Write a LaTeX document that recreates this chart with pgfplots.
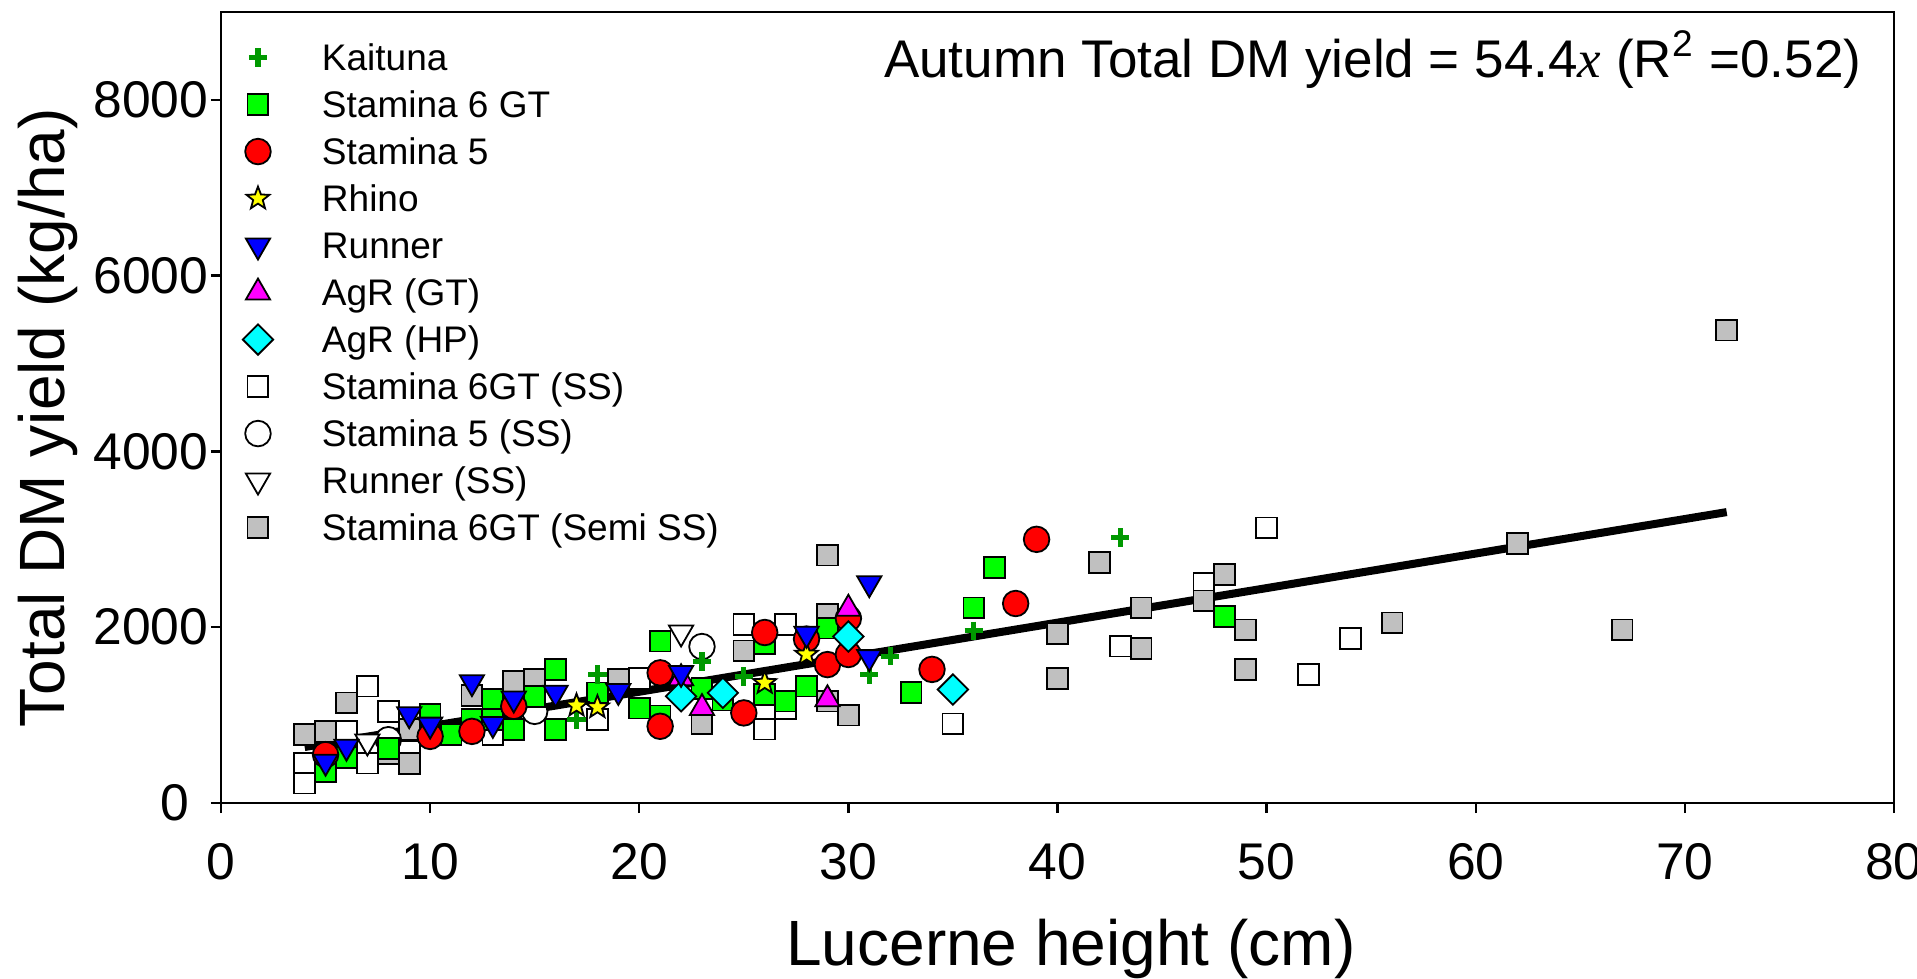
\documentclass[border=0pt]{standalone}
\usepackage{fontspec}
\setmainfont{Liberation Sans}
\newfontfamily\serifit{Liberation Serif}
\usepackage{pgfplots}
\pgfplotsset{compat=1.18}

\definecolor{kgreen}{RGB}{0,153,0}
\definecolor{sgreen}{RGB}{0,255,0}
\definecolor{sred}{RGB}{255,0,0}
\definecolor{syellow}{RGB}{255,255,0}
\definecolor{sblue}{RGB}{0,0,255}
\definecolor{smag}{RGB}{255,0,255}
\definecolor{scyan}{RGB}{0,255,255}
\definecolor{sgray}{RGB}{192,192,192}

\pgfdeclareplotmark{fstar}{%
  \pgfpathmoveto{\pgfpointpolar{90}{\pgfplotmarksize}}%
  \pgfpathlineto{\pgfpointpolar{126}{0.42\pgfplotmarksize}}%
  \pgfpathlineto{\pgfpointpolar{162}{\pgfplotmarksize}}%
  \pgfpathlineto{\pgfpointpolar{198}{0.42\pgfplotmarksize}}%
  \pgfpathlineto{\pgfpointpolar{234}{\pgfplotmarksize}}%
  \pgfpathlineto{\pgfpointpolar{270}{0.42\pgfplotmarksize}}%
  \pgfpathlineto{\pgfpointpolar{306}{\pgfplotmarksize}}%
  \pgfpathlineto{\pgfpointpolar{342}{0.42\pgfplotmarksize}}%
  \pgfpathlineto{\pgfpointpolar{18}{\pgfplotmarksize}}%
  \pgfpathlineto{\pgfpointpolar{54}{0.42\pgfplotmarksize}}%
  \pgfpathclose
  \pgfusepathqfillstroke}
\pgfdeclareplotmark{sdiamond}{%
  \pgfpathmoveto{\pgfqpoint{0pt}{\pgfplotmarksize}}%
  \pgfpathlineto{\pgfqpoint{\pgfplotmarksize}{0pt}}%
  \pgfpathlineto{\pgfqpoint{0pt}{-\pgfplotmarksize}}%
  \pgfpathlineto{\pgfqpoint{-\pgfplotmarksize}{0pt}}%
  \pgfpathclose
  \pgfusepathqfillstroke}

\pgfplotsset{
  kaituna/.style={only marks, mark=+, mark size=2.3bp, color=kgreen, mark options={line width=1.3bp}},
  sqm/.style={only marks, mark=square*, mark size=2.6bp, mark options={draw=black, fill=#1, line width=0.45bp}},
  circm/.style={only marks, mark=*, mark size=3.2bp, mark options={draw=black, fill=#1, line width=0.45bp}},
  dtri/.style={only marks, mark=triangle*, mark size=3.5bp, mark options={rotate=180, draw=black, fill=#1, line width=0.45bp}},
  utri/.style={only marks, mark=triangle*, mark size=3.5bp, mark options={draw=black, fill=#1, line width=0.45bp}},
  starm/.style={only marks, mark=fstar, mark size=3bp, mark options={draw=black, fill=syellow, line width=0.45bp}},
  diam/.style={only marks, mark=sdiamond, mark size=3.8bp, mark options={draw=black, fill=scyan, line width=0.45bp}},
}

\begin{document}
\begin{tikzpicture}
\begin{axis}[
  at={(0,0)}, anchor=south west,
  scale only axis, width=418.25bp, height=197.75bp,
  xmin=0, xmax=80, ymin=0, ymax=9000,
  xtick={0,10,...,80}, ytick={0,2000,4000,6000,8000},
  yticklabels={0\hspace*{4.75bp},2000,4000,6000,8000},
  xtick pos=lower, ytick pos=left,
  tick align=outside, major tick length=2.5bp,
  axis line style={line width=0.6bp},
  every tick/.style={line width=0.6bp, black},
  /pgf/number format/assume math mode=true,
  scaled ticks=false,
  xticklabel style={font=\fontsize{12.9bp}{15bp}\selectfont, inner sep=0pt, anchor=north, yshift=-7.5bp},
  yticklabel style={font=\fontsize{12.9bp}{15bp}\selectfont, inner sep=0pt, anchor=east, xshift=-0.5bp},
  xlabel={Lucerne height (cm)},
  ylabel={Total DM yield (kg/ha)},
  xlabel style={at={(axis description cs:0.508,-0.206)}, anchor=base, inner sep=0pt, font=\fontsize{16bp}{19bp}\selectfont},
  ylabel style={at={(axis description cs:-0.122,0.487)}, anchor=north, inner sep=0pt, font=\fontsize{16bp}{19bp}\selectfont},
  legend cell align=left,
  legend image code/.code={\path[draw=none,fill=none] (0bp,-3bp) rectangle (18bp,3bp);
    \draw[mark repeat=2,mark phase=2,#1] plot coordinates {(0bp,0bp) (9bp,0bp) (18bp,0bp)};},
  legend style={at={(axis description cs:0.0006,0.9592)}, anchor=north west, draw=none, fill=none,
    inner sep=0pt, outer sep=0pt, font=\fontsize{9.25bp}{11bp}\selectfont,
    row sep={11.75bp,between origins}, column sep=7bp,
    nodes={inner sep=0pt, text height=6.62bp, text depth=0pt}},
]
% legend entries
\addlegendimage{kaituna}\addlegendentry{Kaituna}
\addlegendimage{sqm=sgreen}\addlegendentry{Stamina 6 GT}
\addlegendimage{circm=sred}\addlegendentry{Stamina 5}
\addlegendimage{starm}\addlegendentry{Rhino}
\addlegendimage{dtri=sblue}\addlegendentry{Runner}
\addlegendimage{utri=smag}\addlegendentry{AgR (GT)}
\addlegendimage{diam}\addlegendentry{AgR (HP)}
\addlegendimage{sqm=white}\addlegendentry{Stamina 6GT (SS)}
\addlegendimage{circm=white}\addlegendentry{Stamina 5 (SS)}
\addlegendimage{dtri=white}\addlegendentry{Runner (SS)}
\addlegendimage{sqm=sgray}\addlegendentry{Stamina 6GT (Semi SS)}

% regression line
\addplot[forget plot, black, line width=2bp] coordinates {(4,637) (72,3310)};

% Stamina 6GT (SS)
\addplot[forget plot, sqm=white] coordinates {
(4,455) (4,227) (6,815) (6,590) (7,1330) (7,455) (8,1040) (9,587) (13,780) (18,950)
(20,1420) (25,2030) (26,990) (26,840) (27,2030) (27,1070) (35,900) (43,1785)
(47,2500) (50,3130) (52,1460) (54,1870)};
% Stamina 6GT (Semi SS)
\addplot[forget plot, sqm=sgray] coordinates {
(4,780) (5,815) (6,1139) (8,560) (9,835) (9,450) (12,1225) (14,1385) (15,1405) (19,1405)
(23,900) (25,1730) (29,2820) (29,2150) (29,1160) (30,1000) (40,1930) (40,1420) (42,2735)
(44,2220) (44,1760) (47,2300) (48,2600) (49,1970) (49,1520) (56,2050) (62,2950) (67,1970) (72,5380)};
% Stamina 5 (SS)
\addplot[forget plot, circm=white] coordinates {(8,720) (15,1043) (23,1780)};
% Runner (SS)
\addplot[forget plot, dtri=white] coordinates {(7,700) (14,990) (22,1940)};
% Stamina 6 GT
\addplot[forget plot, sqm=sgreen] coordinates {
(5,360) (6,520) (8,620) (10,1006) (11,780) (12,950) (13,1180) (13,950) (14,835) (15,1210)
(16,1520) (16,835) (18,1253) (20,1080) (21,1842) (21,990) (23,1300) (24,1170) (26,1810)
(26,1240) (27,1160) (28,1330) (29,1990) (33,1260) (36,2220) (37,2680) (48,2125)};
% Stamina 5
\addplot[forget plot, circm=sred] coordinates {
(5,550) (10,758) (12,815) (14,1100) (21,1481) (21,873) (25,1025) (26,1940) (28,1865)
(29,1575) (30,1690) (30,2100) (34,1520) (38,2270) (39,3000)};
% Kaituna
\addplot[forget plot, kaituna] coordinates {
(17,950) (18,1460) (23,1610) (25,1440) (31,1460) (32,1670) (36,1960) (43,3020)};
% AgR (GT)
\addplot[forget plot, utri=smag] coordinates {(22,1420) (23,1080) (29,1180) (30,2210)};
% AgR (HP)
\addplot[forget plot, diam] coordinates {(22,1214) (24,1253) (30,1895) (35,1291)};
% Rhino
\addplot[forget plot, starm] coordinates {(17,1108) (18,1090) (26,1367) (28,1690)};
% Runner
\addplot[forget plot, dtri=sblue] coordinates {
(5,470) (6,640) (9,1010) (10,892) (12,1375) (13,900) (14,1188) (16,1255) (19,1275)
(22,1480) (28,1925) (31,2500) (31,1660)};

\node[anchor=base east, inner sep=0pt, font=\fontsize{13.25bp}{16bp}\selectfont]
  at (axis cs:78.47,8255) {Autumn Total DM yield = 54.4{\serifit\itshape x} (R\textsuperscript{2} =0.52)};
\end{axis}
\pgfresetboundingbox
\path[use as bounding box] (-55.25bp,-44bp) rectangle (424bp,200.75bp);
\end{tikzpicture}
\end{document}
